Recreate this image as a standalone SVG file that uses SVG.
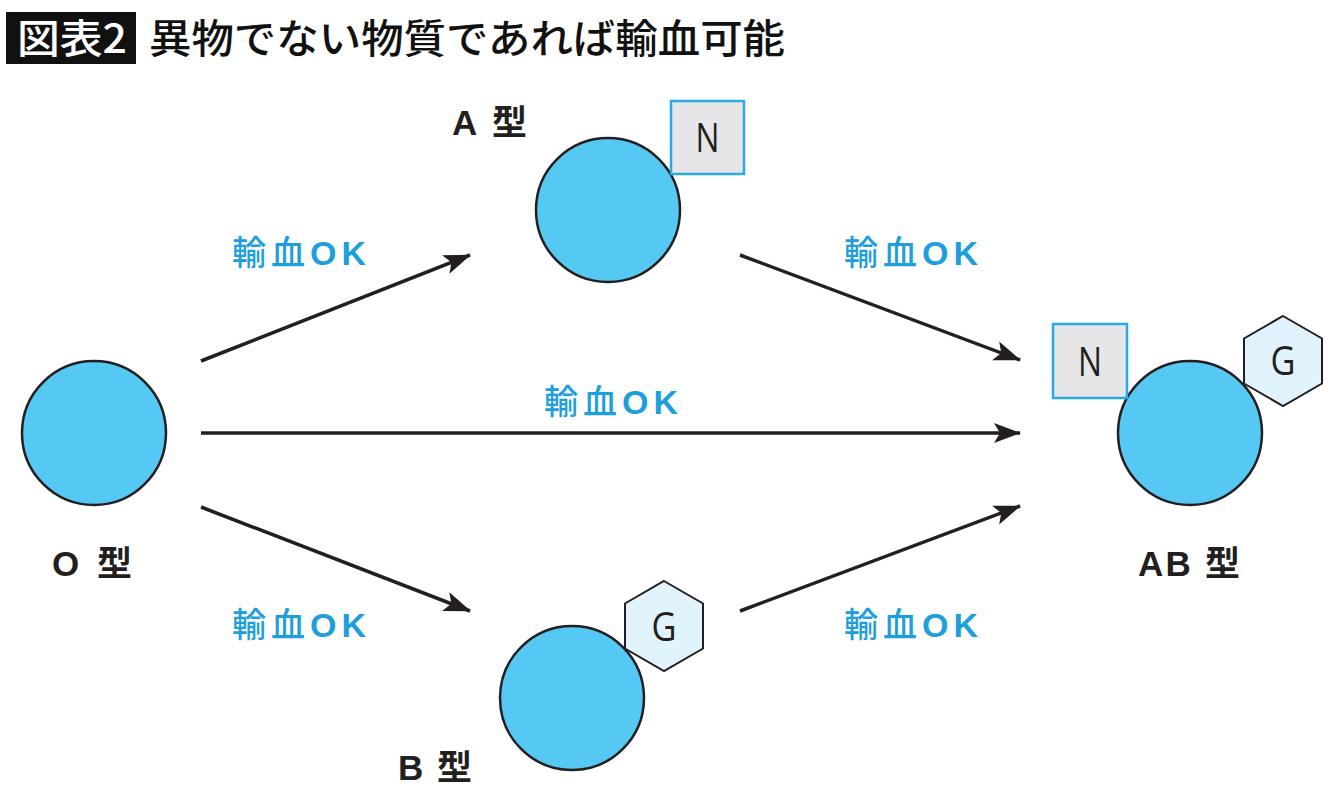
<svg xmlns="http://www.w3.org/2000/svg" width="1340" height="801" viewBox="0 0 1340 801">
<style>
.cell{fill:#55c9f3;stroke:#231f20;stroke-width:2.5}
.nbox{fill:#e6e6e8;stroke:#29abe2;stroke-width:2.5}
.hex{fill:#e1f3fc;stroke:#231f20;stroke-width:2}
.mark{font-family:"Open Sans","Noto Sans CJK JP",sans-serif;font-size:41px;fill:#231f20;text-anchor:middle}
.ok{font-family:"Liberation Sans","Noto Sans CJK JP",sans-serif;font-size:34px;font-weight:500;fill:#1e9fdc}
.ok tspan{font-weight:700}
.type{font-family:"Liberation Sans","Noto Sans CJK JP",sans-serif;font-size:35px;font-weight:700;fill:#231f20}
.conn{stroke:#231f20;stroke-width:3.5;fill:none;marker-end:url(#ah)}
</style>
<defs>
<marker id="ah" viewBox="0 0 28 22" refX="26" refY="11" markerWidth="28" markerHeight="22" markerUnits="userSpaceOnUse" orient="auto">
<path d="M0,1 L27,11 L0,21 L6,11 z" fill="#231f20"/>
</marker>
</defs>
<rect width="1340" height="801" fill="#fff"/>
<g id="title">
<rect x="6" y="12" width="130" height="52" fill="#111"/>
<text x="17" y="53" font-family="Noto Sans CJK JP,sans-serif" font-size="40" font-weight="500" fill="#fff" textLength="110" lengthAdjust="spacingAndGlyphs">図表2</text>
<text x="149" y="53" font-family="Noto Sans CJK JP,sans-serif" font-size="40" font-weight="500" fill="#111" textLength="636" lengthAdjust="spacingAndGlyphs">異物でない物質であれば輸血可能</text>
</g>
<g id="connectors">
<line class="conn" x1="201" y1="361" x2="470" y2="255"/>
<line class="conn" x1="740" y1="255" x2="1020" y2="360"/>
<line class="conn" x1="201" y1="433" x2="1020" y2="433"/>
<line class="conn" x1="201" y1="507" x2="470" y2="611"/>
<line class="conn" x1="740" y1="611" x2="1020" y2="506"/>
<text class="ok" x="232" y="265" textLength="134">輸血<tspan>OK</tspan></text>
<text class="ok" x="844" y="265" textLength="134">輸血<tspan>OK</tspan></text>
<text class="ok" x="544" y="414" textLength="134">輸血<tspan>OK</tspan></text>
<text class="ok" x="232" y="637" textLength="134">輸血<tspan>OK</tspan></text>
<text class="ok" x="844" y="637" textLength="134">輸血<tspan>OK</tspan></text>
</g>
<g id="typeO">
<circle class="cell" cx="94" cy="433" r="72"/>
<text class="type" x="52" y="576" textLength="80">O 型</text>
</g>
<g id="typeA">
<circle class="cell" cx="608" cy="210" r="72"/>
<rect class="nbox" x="671" y="101" width="73" height="73"/>
<text class="mark" x="707.5" y="152" textLength="24" lengthAdjust="spacingAndGlyphs">N</text>
<text class="type" x="452" y="135" textLength="75">A 型</text>
</g>
<g id="typeB">
<circle class="cell" cx="572" cy="698" r="72"/>
<polygon class="hex" points="664,581 703,603.5 703,648.5 664,671 625,648.5 625,603.5"/>
<text class="mark" x="664" y="641" textLength="25" lengthAdjust="spacingAndGlyphs">G</text>
<text class="type" x="398" y="780" textLength="74">B 型</text>
</g>
<g id="typeAB">
<circle class="cell" cx="1190" cy="433" r="72"/>
<rect class="nbox" x="1053" y="324" width="74" height="74"/>
<text class="mark" x="1090" y="376" textLength="24" lengthAdjust="spacingAndGlyphs">N</text>
<polygon class="hex" points="1283,316 1322,338.5 1322,383.5 1283,406 1244,383.5 1244,338.5"/>
<text class="mark" x="1283" y="375" textLength="25" lengthAdjust="spacingAndGlyphs">G</text>
<text class="type" x="1138" y="576" textLength="102">AB 型</text>
</g>
</svg>
